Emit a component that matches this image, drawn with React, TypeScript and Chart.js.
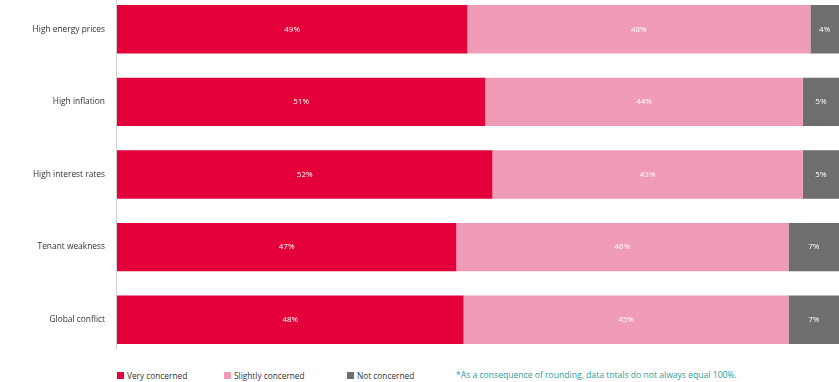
import React, { useEffect, useRef } from "react";
import { Chart, registerables } from "chart.js";

Chart.register(...registerables);

const categories = [
  "High energy prices",
  "High inflation",
  "High interest rates",
  "Tenant weakness",
  "Global conflict",
];
const veryConcerned = [49, 51, 52, 47, 48];
const slightlyConcerned = [48, 44, 43, 46, 45];
const notConcerned = [4, 5, 5, 7, 7];
const seriesNames = ["Very concerned", "Slightly concerned", "Not concerned"];
const seriesColors = ["#E4003A", "#F09CB6", "#6E6E6E"];
const footnote = "*As a consequence of rounding, data totals do not always equal 100%.";

const FONT = "'Open Sans', 'Noto Sans', sans-serif";

const rawSeries = [veryConcerned, slightlyConcerned, notConcerned];
const rowTotals = categories.map((_, i) =>
  rawSeries.reduce((s, arr) => s + arr[i], 0)
);

const labelPlugin = {
  id: "barLabels",
  afterDatasetsDraw(chart: any) {
    const ctx = chart.ctx;
    ctx.save();
    ctx.font = `8px ${FONT}`;
    ctx.fillStyle = "#ffffff";
    ctx.textAlign = "center";
    ctx.textBaseline = "middle";
    chart.data.datasets.forEach((ds: any, di: number) => {
      const meta = chart.getDatasetMeta(di);
      meta.data.forEach((bar: any, i: number) => {
        const raw = rawSeries[di][i];
        const cx = (bar.x + bar.base) / 2;
        ctx.fillText(`${raw}%`, cx, bar.y);
      });
    });
    ctx.restore();
  },
};

const axisLinePlugin = {
  id: "axisLine",
  beforeDatasetsDraw(chart: any) {
    const { ctx, chartArea } = chart;
    ctx.save();
    ctx.strokeStyle = "#d0d0d0";
    ctx.lineWidth = 1;
    ctx.beginPath();
    ctx.moveTo(chartArea.left - 0.5, chartArea.top + 7);
    ctx.lineTo(chartArea.left - 0.5, chartArea.bottom - 7);
    ctx.stroke();
    ctx.restore();
  },
};

export default function App() {
  const canvasRef = useRef<HTMLCanvasElement | null>(null);

  useEffect(() => {
    if (!canvasRef.current) return;
    const chart = new Chart(canvasRef.current, {
      type: "bar",
      data: {
        labels: categories,
        datasets: rawSeries.map((arr, di) => ({
          label: seriesNames[di],
          data: arr.map((v, i) => (v / rowTotals[i]) * 100),
          backgroundColor: seriesColors[di],
          borderWidth: 0,
          barPercentage: 0.667,
          categoryPercentage: 1,
        })),
      },
      options: {
        indexAxis: "y",
        animation: false,
        responsive: false,
        maintainAspectRatio: false,
        layout: { padding: 0 },
        plugins: {
          legend: { display: false },
          tooltip: { enabled: false },
        },
        scales: {
          x: {
            stacked: true,
            min: 0,
            max: 100,
            display: false,
          },
          y: {
            stacked: true,
            grid: { display: false, drawTicks: false },
            border: { display: false },
            ticks: {
              color: "#333333",
              font: { family: FONT, size: 8.4 },
              padding: 12,
            },
            afterFit(scale: any) {
              scale.width = 117;
              scale.paddingTop = 0;
              scale.paddingBottom = 0;
            },
          },
        },
      },
      plugins: [labelPlugin, axisLinePlugin],
    });
    return () => chart.destroy();
  }, []);

  const legendLefts = [117, 224, 347];

  return (
    <div
      style={{
        position: "fixed",
        left: 0,
        top: 0,
        width: 839,
        height: 382,
        overflow: "hidden",
        background: "#ffffff",
        fontFamily: FONT,
      }}
    >
      <canvas
        ref={canvasRef}
        width={839}
        height={363}
        style={{ position: "absolute", left: 0, top: -7, width: 839, height: 363 }}
      />
      {seriesNames.map((name, i) => (
        <div
          key={name}
          style={{
            position: "absolute",
            left: legendLefts[i],
            top: 369,
            height: 12,
            display: "flex",
            alignItems: "center",
            fontSize: 8.3,
            color: "#333333",
            whiteSpace: "nowrap",
          }}
        >
          <span
            style={{
              display: "inline-block",
              width: 7,
              height: 7,
              background: seriesColors[i],
              marginRight: 3,
            }}
          />
          {name}
        </div>
      ))}
      <div
        style={{
          position: "absolute",
          left: 456,
          top: 369,
          height: 12,
          display: "flex",
          alignItems: "center",
          fontSize: 8.6,
          color: "#2E9C9C",
          whiteSpace: "nowrap",
        }}
      >
        {footnote}
      </div>
    </div>
  );
}
